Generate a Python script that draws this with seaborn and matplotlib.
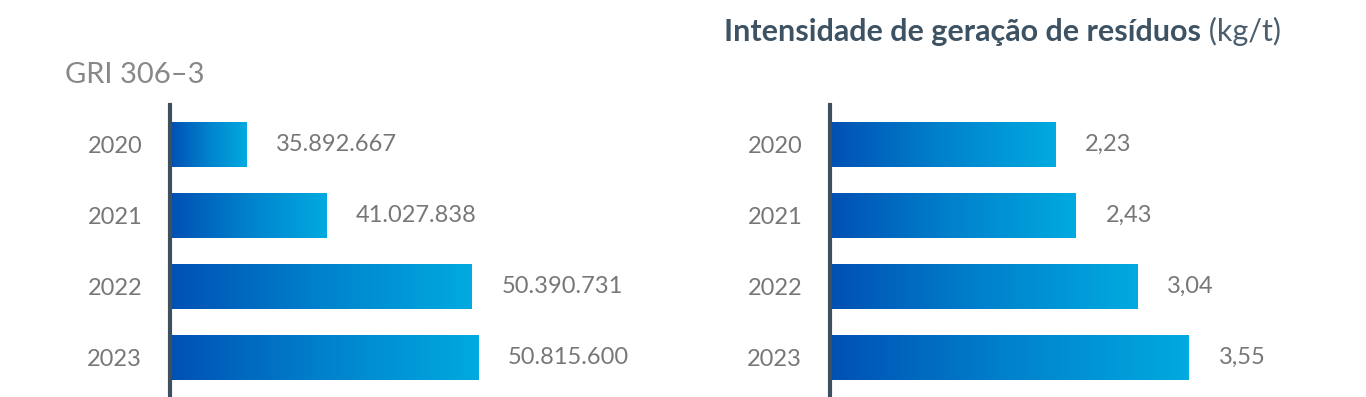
import numpy as np
import pandas as pd
import matplotlib
matplotlib.use("Agg")
import matplotlib.pyplot as plt
import seaborn as sns
from matplotlib.colors import LinearSegmentedColormap

# data
years = ["2020", "2021", "2022", "2023"]
residuos_total = [35892667, 41027838, 50390731, 50815600]
intensidade = [2.23, 2.43, 3.04, 3.55]

sns.set_theme(style="white")
plt.rcParams['font.family'] = ['Lato', 'DejaVu Sans']

W, H = 1366, 397
fig = plt.figure(figsize=(W / 100, H / 100), dpi=100)

grad = LinearSegmentedColormap.from_list("grad", ["#0050b4", "#0082cc", "#00aae0"])
spine_col = "#3d5060"
txt_col = "#777777"


def draw_panel(ax, vals, labels, xlim):
    df = pd.DataFrame({"ano": years, "valor": vals})
    sns.barplot(data=df, x="valor", y="ano", orient="h", ax=ax, width=0.63,
                color="#0050b4", saturation=1)
    # gradient fill on each bar (starting at the visible axis edge)
    g = np.linspace(0, 1, 256).reshape(1, -1)
    for p in ax.patches:
        x0, y0 = max(p.get_x(), xlim[0]), p.get_y()
        x1, y1 = p.get_x() + p.get_width(), y0 + p.get_height()
        ax.imshow(g, cmap=grad, aspect="auto", extent=(x0, x1, y1, y0), zorder=2)
        p.set_visible(False)
    ax.set_xlim(*xlim)
    ax.set_ylim(3.56, -0.56)
    for i, (v, lab) in enumerate(zip(vals, labels)):
        ax.annotate(lab, xy=(v, i), xytext=(21.6, 0), textcoords="offset points",
                    va="center", ha="left", fontsize=17, color=txt_col)
    ax.set_xlabel("")
    ax.set_ylabel("")
    ax.set_xticks([])
    ax.tick_params(axis="y", length=0, pad=20, labelsize=17, labelcolor=txt_col)
    for s in ["top", "right", "bottom"]:
        ax.spines[s].set_visible(False)
    ax.spines["left"].set_color(spine_col)
    ax.spines["left"].set_linewidth(3)
    ax.spines["left"].set_zorder(3)
    ax.patch.set_alpha(0)


ax1 = fig.add_axes([170 / W, 0, 530 / W, 292 / H])
lab1 = [f"{v:,}".replace(",", ".") for v in residuos_total]
draw_panel(ax1, residuos_total, lab1, (30.97e6, 30.97e6 + 530 / 15.52 * 1e6))

ax2 = fig.add_axes([830 / W, 0, 536 / W, 292 / H])
lab2 = [f"{v:.2f}".replace(".", ",") for v in intensidade]
draw_panel(ax2, intensidade, lab2, (0, 536 / 101.06))

fig.text(65 / W, 1 - 75 / H, "GRI 306–3", fontsize=21, color="#888888",
         ha="left", va="center")

t1 = fig.text(724 / W, 1 - 32 / H, "Intensidade de geração de resíduos", fontsize=22,
              fontweight="bold", color="#3d5262", ha="left", va="center")
ax2.annotate(" (kg/t)", xy=(1, 0), xycoords=t1, va="bottom", ha="left",
             fontsize=22, fontweight="normal", color="#4a5e6e")

fig.savefig("out.png", dpi=100)
